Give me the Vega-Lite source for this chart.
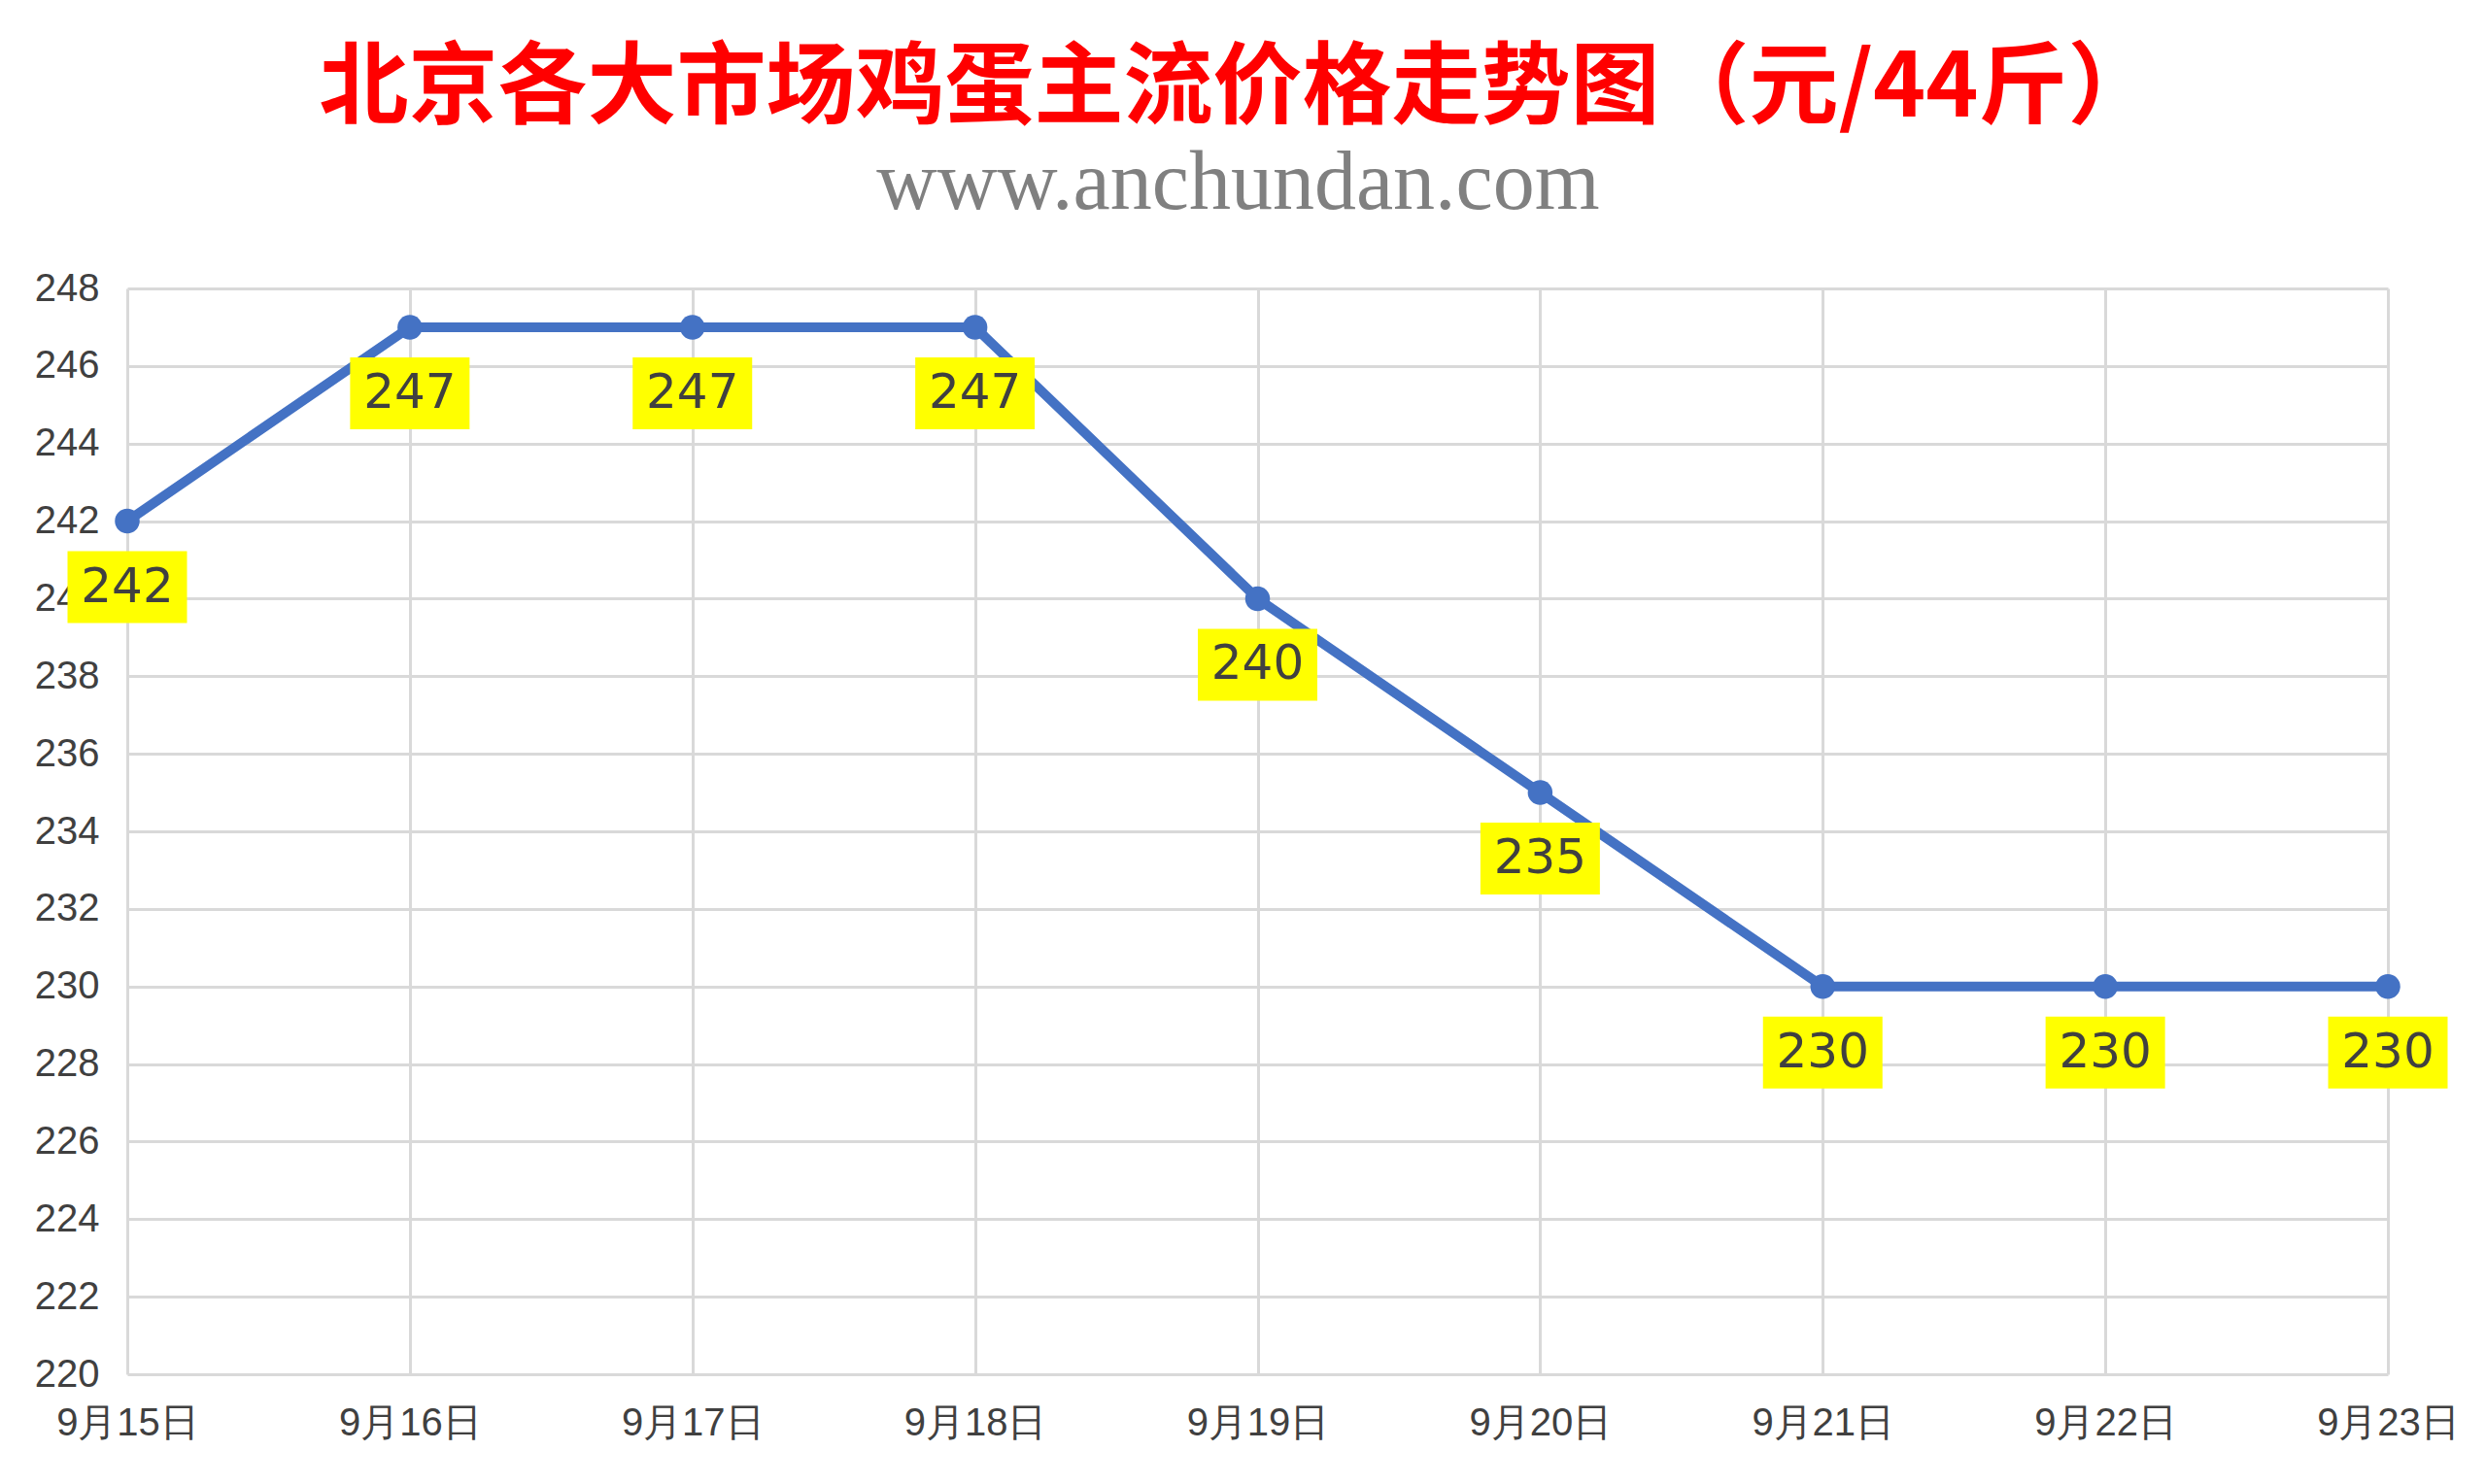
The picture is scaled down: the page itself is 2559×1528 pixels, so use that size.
{
  "$schema": "https://vega.github.io/schema/vega-lite/v6.json",
  "autosize": {"type": "none"},
  "width": 2327,
  "height": 1118,
  "padding": {"left": 131, "top": 297, "right": 101, "bottom": 113},
  "background": "white",
  "title": {
    "text": "北京各大市场鸡蛋主流价格走势图（元/44斤）",
    "subtitle": "www.anchundan.com",
    "anchor": "middle",
    "dx": -20,
    "offset": 44,
    "font": "Noto Sans CJK SC",
    "fontSize": 92,
    "fontWeight": "bold",
    "color": "#FF0000",
    "subtitleFont": "Liberation Serif",
    "subtitleFontSize": 86,
    "subtitleColor": "#808080",
    "subtitlePadding": 8
  },
  "data": {
    "values": [
      {"date": "9月15日", "price": 242},
      {"date": "9月16日", "price": 247},
      {"date": "9月17日", "price": 247},
      {"date": "9月18日", "price": 247},
      {"date": "9月19日", "price": 240},
      {"date": "9月20日", "price": 235},
      {"date": "9月21日", "price": 230},
      {"date": "9月22日", "price": 230},
      {"date": "9月23日", "price": 230}
    ]
  },
  "encoding": {
    "x": {
      "field": "date",
      "type": "ordinal",
      "sort": null,
      "scale": {"type": "point", "padding": 0},
      "axis": {
        "title": null,
        "labelAngle": 0,
        "labelFont": "Liberation Sans",
        "labelFontSize": 40,
        "labelColor": "#404040",
        "labelPadding": 30,
        "ticks": false,
        "domain": false,
        "grid": true,
        "gridColor": "#d9d9d9",
        "gridWidth": 3
      }
    },
    "y": {
      "field": "price",
      "type": "quantitative",
      "scale": {"domain": [220, 248], "nice": false, "zero": false},
      "axis": {
        "title": null,
        "values": [220, 222, 224, 226, 228, 230, 232, 234, 236, 238, 240, 242, 244, 246, 248],
        "labelFont": "Liberation Sans",
        "labelFontSize": 40,
        "labelColor": "#404040",
        "labelPadding": 29,
        "ticks": false,
        "domain": false,
        "grid": true,
        "gridColor": "#d9d9d9",
        "gridWidth": 3
      }
    }
  },
  "layer": [
    {"mark": {"type": "line", "color": "#4472C4", "strokeWidth": 10}},
    {"mark": {"type": "point", "filled": true, "size": 650, "color": "#4472C4", "opacity": 1}},
    {"mark": {"type": "point", "filled": true, "shape": "M-1.662,-1L1.662,-1L1.662,1L-1.662,1Z", "size": 5476, "color": "#FFFF00", "opacity": 1, "yOffset": 68}},
    {
      "mark": {"type": "text", "font": "DejaVu Sans", "fontSize": 50, "color": "#404040", "baseline": "middle", "align": "center", "dy": 68},
      "encoding": {"text": {"field": "price", "type": "quantitative"}}
    }
  ],
  "config": {"view": {"stroke": null}}
}
